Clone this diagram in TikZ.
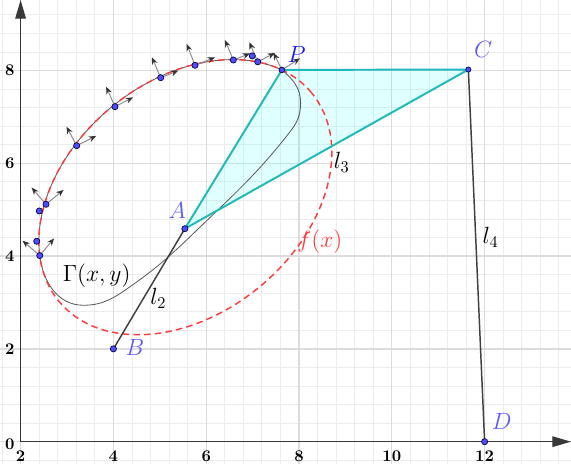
\documentclass[tikz,border=0pt]{standalone}
\usetikzlibrary{arrows.meta}
\definecolor{ggblue}{RGB}{77,77,255}
\definecolor{lblblue}{RGB}{90,90,255}
\definecolor{pblue}{RGB}{25,25,255}
\definecolor{tri}{RGB}{32,185,185}
\definecolor{trifill}{RGB}{0,255,255}
\definecolor{fred}{RGB}{255,60,60}
\definecolor{dline}{RGB}{64,64,64}
\definecolor{minorgrid}{RGB}{236,236,236}
\definecolor{majorgrid}{RGB}{220,220,220}
\begin{document}
\begin{tikzpicture}[x=1cm,y=1cm,
  dot/.style={circle,fill=ggblue,draw=black!75!blue,line width=0.4pt,inner sep=0pt,minimum size=3.8pt},
  lbl/.style={font=\fontsize{14.4}{17}\selectfont,text=lblblue,inner sep=0pt},
  mlbl/.style={font=\fontsize{14.4}{17}\selectfont,inner sep=0pt},
  ticklbl/.style={font=\fontsize{10}{12}\selectfont\bfseries,inner sep=0pt},
  vec/.style={draw=black!45,line width=0.6pt,-{Stealth[length=4.5pt,width=3.6pt,color=black!80]}},
  axisline/.style={draw=black!78,line width=0.9pt,-{Triangle[length=11.5pt,width=6.5pt]}},
  segline/.style={draw=dline,line width=0.9pt},
  triline/.style={draw=tri,line width=1.2pt},
  fdash/.style={draw=fred,line width=0.9pt,dash pattern=on 4pt off 2.6pt},
  gam/.style={draw=black!65,line width=0.5pt}
]
\useasboundingbox (1.556,-0.481) rectangle (13.862,9.519);
% grid
\draw[minorgrid,line width=0.5pt] (1.556,-0.481) grid[step=0.4] (13.862,9.519);
\draw[majorgrid,line width=0.8pt] (1.556,-0.481) grid[step=2] (13.862,9.519);

% points
\coordinate (A) at (5.54,4.59);
\coordinate (B) at (4,2);
\coordinate (C) at (11.65,8.02);
\coordinate (D) at (12,0);
\coordinate (p1) at (2.412,4.011);
\coordinate (p2) at (2.347,4.319);
\coordinate (p3) at (2.403,4.972);
\coordinate (p4) at (2.547,5.116);
\coordinate (p5) at (3.209,6.379);
\coordinate (p6) at (4.034,7.220);
\coordinate (p7) at (5.019,7.845);
\coordinate (p8) at (5.759,8.112);
\coordinate (p9) at (6.584,8.226);
\coordinate (p10) at (6.993,8.313);
\coordinate (p11) at (7.110,8.187);
\coordinate (P) at (7.631,8.012);

% triangle fill
\fill[fill=trifill,fill opacity=0.12] (A) -- (P) -- (C) -- cycle;

% axes
\coordinate (O) at (2,0);
\coordinate (xend) at (13.862,0);
\coordinate (yend) at (2,9.519);
\draw[axisline] (O) -- (xend);
\draw[axisline] (O) -- (yend);

% tick labels
\node[ticklbl] (t0) at (1.77,-0.05) {0};
\foreach \v in {2,4,6,8} \node[ticklbl] (ty\v) at (1.77,\v) {\v};
\foreach \v in {2,4,6,8,10,12} \node[ticklbl] (tx\v) at (\v,-0.31) {\v};

% Gamma curve
\draw[gam] plot[domain=18.4:155.9,samples=60]
  ({5.55+2.7237*cos(\x)-1.5966*sin(\x)},{5.27+2.2454*cos(\x)+1.9367*sin(\x)});
\draw[gam] (P) to[out=-40,in=90] (8.035,7.30) to[out=-90,in=52] (7.80,6.67)
  to[out=232,in=44] (5.80,4.56) to[out=224,in=35] (4.36,3.34)
  to[out=215,in=0] (3.35,2.94) to[out=180,in=-83] (p1);

% f(x) ellipse
\draw[fdash,rotate around={39.5:(5.55,5.27)}] (5.55,5.27) ellipse [x radius=3.53,y radius=2.51];

% segments
\draw[triline] (A) -- (P);
\draw[triline] (A) -- (C);
\draw[triline] (P) -- (C);
\draw[segline] (B) -- (A);
\draw[segline] (C) -- (D);

% vectors
\foreach \i/\nx/\ny/\tx/\ty in {p1/-0.37/0.32/0.31/0.37, p4/-0.31/0.36/0.38/0.31, p5/-0.22/0.41/0.42/0.21, p6/-0.19/0.43/0.39/0.20, p7/-0.19/0.44/0.38/0.15, p8/-0.18/0.46/0.43/0.17, p9/-0.18/0.43/0.36/0.14, p11/-0.18/0.42/0.37/0.19, P/-0.18/0.37/0.39/0.25} {
  \path (\i) ++(\nx,\ny) coordinate (n-\i);
  \path (\i) ++(\tx,\ty) coordinate (t-\i);
  \draw[vec] (\i) -- (n-\i);
  \draw[vec] (\i) -- (t-\i);
}

% dots
\foreach \i in {p1,p2,p3,p4,p5,p6,p7,p8,p9,p10,p11} \node[dot] (d-\i) at (\i) {};
\node[dot] (d-A) at (A) {};
\node[dot] (d-B) at (B) {};
\node[dot,minimum size=3.2pt] (d-C) at (C) {};
\node[dot] (d-D) at (D) {};
\node[dot,minimum size=3.5pt] (d-P) at (P) {};

% labels
\node[lbl] (lA) at (5.378,4.99) {$A$};
\node[lbl,text=pblue] (lP) at (7.95,8.355) {$P$};
\node[lbl] (lC) at (11.97,8.457) {$C$};
\node[lbl] (lD) at (12.37,0.43) {$D$};
\node[lbl] (lB) at (4.466,2.034) {$B$};
\node[mlbl] (l2) at (4.968,3.09) {$l_2$};
\node[mlbl] (l3) at (8.92,6.02) {$l_3$};
\node[mlbl] (l4) at (12.13,4.405) {$l_4$};
\node[mlbl,text=fred] (lf) at (8.45,4.31) {$f(x)$};
\node[mlbl] (lg) at (3.64,3.57) {$\Gamma(x,y)$};
\end{tikzpicture}
\end{document}
